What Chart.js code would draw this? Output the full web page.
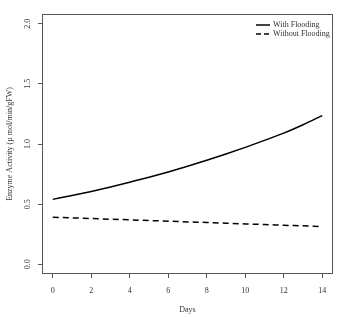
<!DOCTYPE html>
<html>
<head>
<meta charset="utf-8">
<script src="https://cdn.jsdelivr.net/npm/chart.js@4.4.1/dist/chart.umd.min.js"></script>
<style>
html,body{margin:0;padding:0;background:#fff;}
#wrap{width:353px;height:318px;}
</style>
</head>
<body>
<div id="wrap"><canvas id="c" width="353" height="318"></canvas></div>
<script>
const days = [0,1,2,3,4,5,6,7,8,9,10,11,12,13,14];
const withFlooding = [0.54,0.572,0.606,0.643,0.683,0.724,0.768,0.815,0.865,0.917,0.972,1.03,1.09,1.16,1.236];
const withoutFlooding = [0.392,0.386,0.381,0.375,0.370,0.364,0.359,0.353,0.348,0.342,0.336,0.331,0.325,0.320,0.314];
const seriesNames = ['With Flooding','Without Flooding'];
const xTitle = 'Days';
const yTitle = 'Enzyme Activity (\u00b5 mol/min/gFW)';

const FONT = '"Liberation Serif","DejaVu Serif",serif';
const TXT = '#333';
const AX = '#555';

const boxLegend = {
  id:'boxLegend',
  afterDraw(chart){
    const {ctx, chartArea:a} = chart;
    ctx.save();
    ctx.strokeStyle = AX; ctx.lineWidth = 1;
    ctx.strokeRect(a.left+0.5, a.top+0.5, a.right-a.left-1, a.bottom-a.top-1);
    // y tick labels, rotated (read bottom to top), from the library's y scale
    const ys = chart.scales.y;
    ctx.font = '8px ' + FONT;
    ctx.fillStyle = TXT; ctx.textAlign='center'; ctx.textBaseline='middle';
    ys.ticks.forEach(t=>{
      const py = ys.getPixelForValue(t.value);
      ctx.save();
      ctx.translate(28, py);
      ctx.rotate(-Math.PI/2);
      ctx.fillText(t.value.toFixed(1), 0, 0);
      ctx.restore();
    });
    // legend
    const items = chart.data.datasets;
    ctx.textBaseline='middle'; ctx.textAlign='left';
    items.forEach((ds,i)=>{
      const y = a.top + 11 + i*9;
      ctx.beginPath();
      ctx.strokeStyle = '#000'; ctx.lineWidth = 1.5;
      ctx.setLineDash(ds.borderDash ? [5,3] : []);
      ctx.moveTo(a.right-77, y); ctx.lineTo(a.right-63, y);
      ctx.stroke();
      ctx.setLineDash([]);
      ctx.fillText(ds.label, a.right-60, y);
    });
    ctx.restore();
  }
};

new Chart(document.getElementById('c'), {
  type:'line',
  data:{
    labels: days,
    datasets:[
      {label:seriesNames[0], data:days.map((d,i)=>({x:d,y:withFlooding[i]})), borderColor:'#000', borderWidth:1.5, pointRadius:0, cubicInterpolationMode:'monotone', fill:false},
      {label:seriesNames[1], data:days.map((d,i)=>({x:d,y:withoutFlooding[i]})), borderColor:'#000', borderWidth:1.5, borderDash:[6,4], pointRadius:0, cubicInterpolationMode:'monotone', fill:false}
    ]
  },
  options:{
    responsive:false, animation:false,
    layout:{padding:{left:0,right:20,top:14,bottom:0}},
    plugins:{legend:{display:false}, tooltip:{enabled:false}},
    scales:{
      x:{type:'linear', min:-0.56, max:14.56,
        border:{display:false},
        grid:{drawOnChartArea:false, drawTicks:true, tickLength:4, color:AX, lineWidth:1},
        ticks:{stepSize:2, includeBounds:false, color:TXT, font:{family:FONT,size:8}, padding:8, maxRotation:0},
        title:{display:true, text:xTitle, color:TXT, font:{family:FONT,size:8}, padding:{top:6,bottom:3}},
        afterFit(s){ s.height = 44; }
      },
      y:{type:'linear', min:-0.08, max:2.08,
        border:{display:false},
        grid:{drawOnChartArea:false, drawTicks:true, tickLength:4, color:AX, lineWidth:1},
        ticks:{stepSize:0.5, includeBounds:false, color:'rgba(0,0,0,0)', font:{family:FONT,size:8}, padding:4,
          callback:v=>v.toFixed(1)},
        title:{display:true, text:yTitle, color:TXT, font:{family:FONT,size:8}, padding:{top:5,bottom:6}},
        afterFit(s){ s.width = 42; }
      }
    }
  },
  plugins:[boxLegend]
});
</script>
</body>
</html>
